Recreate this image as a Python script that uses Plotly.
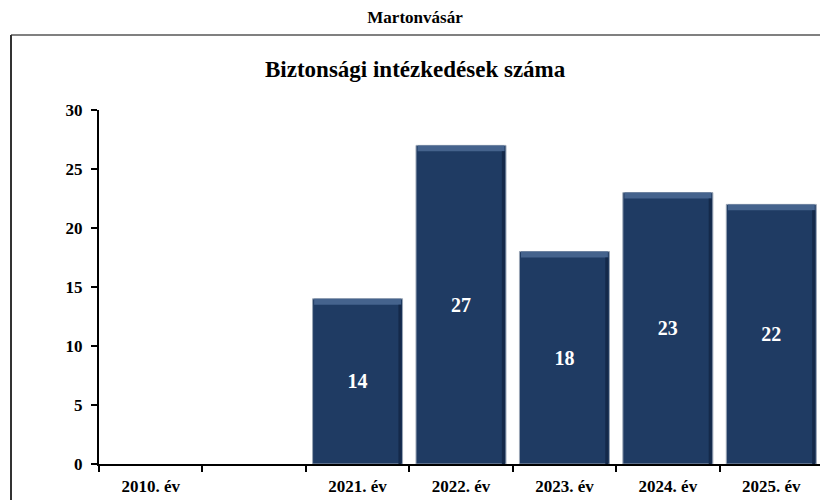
import plotly.graph_objects as go

categories = ["2010. év", " ", "2021. év", "2022. év", "2023. év", "2024. év", "2025. év"]
values = [None, None, 14, 27, 18, 23, 22]
y_ticks = [0, 5, 10, 15, 20, 25, 30]
chart_title = "Martonvásár"
inner_title = "Biztonsági intézkedések száma"

FONT = "Liberation Serif"
BAR = "#1F3B63"
BARGAP = 0.13
BW = 1 - BARGAP

fig = go.Figure()
fig.add_trace(go.Bar(
    x=categories, y=values,
    marker=dict(color=BAR, line=dict(color="#9aa5b5", width=1)),
    text=[("" if v is None else "<b>%d</b>" % v) for v in values],
    textposition="inside", insidetextanchor="middle",
    textfont=dict(family=FONT, size=20, color="white"),
    textangle=0,
    hoverinfo="x+y",
))
# bevel: lighter top strip, darker right edge (derived from the values)
strip = 0.5
fig.add_trace(go.Bar(
    x=categories,
    y=[(None if v is None else strip) for v in values],
    base=[(None if v is None else v - strip) for v in values],
    marker=dict(color="#45638D", line=dict(width=0)),
    width=BW - 0.03, hoverinfo="skip",
))
fig.add_trace(go.Bar(
    x=categories,
    y=[(None if v is None else v - strip) for v in values],
    marker=dict(color="#14294A", line=dict(width=0)),
    width=0.03, offset=BW / 2 - 0.04, hoverinfo="skip",
))

fig.update_layout(
    width=828, height=500,
    margin=dict(l=91, r=13, t=102, b=44),
    paper_bgcolor="white", plot_bgcolor="white",
    barmode="overlay", bargap=BARGAP, showlegend=False,
    font=dict(family=FONT, color="black"),
    title=dict(text="<b>%s</b>" % chart_title, x=407 / 828, xref="container", xanchor="center",
               y=1 - 3 / 500, yref="container", yanchor="top", pad=dict(t=0, b=0),
               font=dict(family=FONT, size=17, color="black")),
    xaxis=dict(type="category", categoryorder="array", categoryarray=categories,
               tickvals=categories, ticktext=["<b>%s</b>" % c for c in categories],
               showline=True, linecolor="black", linewidth=2,
               ticks="outside", tickson="boundaries", ticklen=6, tickwidth=2, tickcolor="black",
               ticklabelstandoff=6,
               tickfont=dict(family=FONT, size=17, color="black"),
               showgrid=False, zeroline=False, fixedrange=True),
    yaxis=dict(range=[0, 30], tickvals=y_ticks, ticktext=["<b>%d</b>" % t for t in y_ticks],
               showline=True, linecolor="black", linewidth=2,
               ticks="outside", ticklen=6, tickwidth=2, tickcolor="black",
               ticklabelstandoff=5,
               tickfont=dict(family=FONT, size=17, color="black"),
               showgrid=False, zeroline=False, fixedrange=True),
)

fig.add_annotation(text="<b>%s</b>" % inner_title, xref="paper", yref="paper",
                   x=(407 - 91) / 724, y=1 + (102 - 62) / 354, xanchor="center", yanchor="middle",
                   showarrow=False, font=dict(family=FONT, size=23, color="black"))

# frame around the chart
top_y = 1 + (102 - 27) / 354
left_x = (3 - 91) / 724
fig.add_shape(type="line", xref="paper", yref="paper",
              x0=left_x, x1=1.05, y0=top_y, y1=top_y,
              line=dict(color="#808080", width=2))
fig.add_shape(type="line", xref="paper", yref="paper",
              x0=left_x, x1=left_x, y0=top_y, y1=-0.2,
              line=dict(color="#333333", width=2))

fig.write_html("out.html")
